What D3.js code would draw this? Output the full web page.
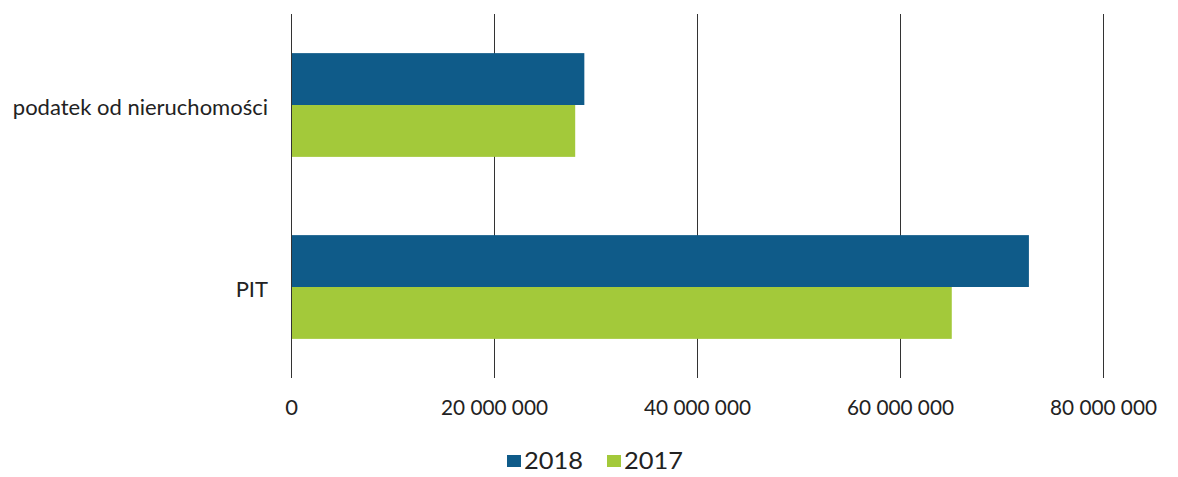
<!DOCTYPE html>
<meta charset="utf-8">
<html>
    <head>
        <style type="text/css">
            body { margin:0; background:#fff; }
            svg { display:block; }
            .graphText { font-family: "Lato", "Open Sans", sans-serif; fill:#222; }
        </style>
        <script src="https://d3js.org/d3.v7.min.js"></script>
    </head>
    <body>
        <svg width="1178" height="477"></svg>
        <script type="text/javascript">
            // data
            var categories = ["podatek od nieruchomości", "PIT"];
            var seriesNames = ["2018", "2017"];
            var values2018 = [28900000, 72700000];
            var values2017 = [28000000, 65100000];
            var tickValues = [0, 20000000, 40000000, 60000000, 80000000];
            var colors = ["#0f5b89", "#a3c93a"];

            var margin = {top: 14, bottom: 99, left: 291, right: 75};
            var width = 1178, height = 477;

            var xScale = d3.scaleLinear()
                .domain([0, 80000000])
                .range([margin.left, width - margin.right]);

            var yScale = d3.scaleBand()
                .domain(categories)
                .range([margin.top, height - margin.bottom])
                .paddingInner(0.43)
                .paddingOuter(0.215);

            var inner = d3.scaleBand()
                .domain(seriesNames)
                .range([0, yScale.bandwidth()]);

            var svg = d3.select("svg");

            // gridlines
            svg.append("g")
                .selectAll("line")
                .data(tickValues)
                .enter().append("line")
                .attr("x1", d => xScale(d) + 0.5)
                .attr("x2", d => xScale(d) + 0.5)
                .attr("y1", margin.top)
                .attr("y2", height - margin.bottom)
                .attr("stroke", "#333")
                .attr("stroke-width", 1);

            var rows = categories.map((c, i) => ({cat: c, vals: [values2018[i], values2017[i]]}));

            var groups = svg.append("g")
                .selectAll("g")
                .data(rows)
                .enter().append("g")
                .attr("transform", d => "translate(0," + yScale(d.cat) + ")");

            groups.selectAll("rect")
                .data(d => d.vals.map((v, j) => ({name: seriesNames[j], value: v, j: j})))
                .enter().append("rect")
                .attr("x", xScale(0) + 1)
                .attr("y", d => inner(d.name))
                .attr("width", d => xScale(d.value) - xScale(0) - 1)
                .attr("height", inner.bandwidth())
                .attr("fill", d => colors[d.j]);

            // x tick labels
            var fmt = d => d3.format(",")(d).replace(/,/g, " ");
            var xAxis = d3.axisBottom(xScale)
                .tickValues(tickValues)
                .tickFormat(fmt)
                .tickSize(0)
                .tickPadding(0);

            var xg = svg.append("g")
                .attr("transform", "translate(0,407)")
                .call(xAxis);
            xg.select(".domain").remove();
            xg.selectAll("text")
                .attr("class", "graphText")
                .attr("dy", "0.35em")
                .style("font-size", "22px")
                .attr("fill", "#222")
                .each(function(d) {
                    if (d > 0) d3.select(this).attr("textLength", 107).attr("lengthAdjust", "spacingAndGlyphs");
                });

            // y category labels
            var yAxis = d3.axisLeft(yScale).tickSize(0).tickPadding(23);
            var yg = svg.append("g")
                .attr("transform", "translate(" + margin.left + ",0)")
                .call(yAxis);
            yg.select(".domain").remove();
            yg.selectAll("text")
                .attr("class", "graphText")
                .style("font-size", "22px")
                .attr("fill", "#222")
                .attr("dy", "0.45em");

            // legend
            var legend = svg.append("g")
                .attr("transform", "translate(507,461)");
            var legendX = [0, 100];
            seriesNames.forEach((s, i) => {
                legend.append("rect")
                    .attr("x", legendX[i])
                    .attr("y", -6)
                    .attr("width", 14)
                    .attr("height", 12)
                    .attr("fill", colors[i]);
                legend.append("text")
                    .attr("class", "graphText")
                    .attr("x", legendX[i] + 17)
                    .attr("y", 0)
                    .attr("dy", "0.36em")
                    .attr("textLength", 59)
                    .attr("lengthAdjust", "spacingAndGlyphs")
                    .style("font-size", "23px")
                    .text(s);
            });
        </script>
    </body>
</html>
